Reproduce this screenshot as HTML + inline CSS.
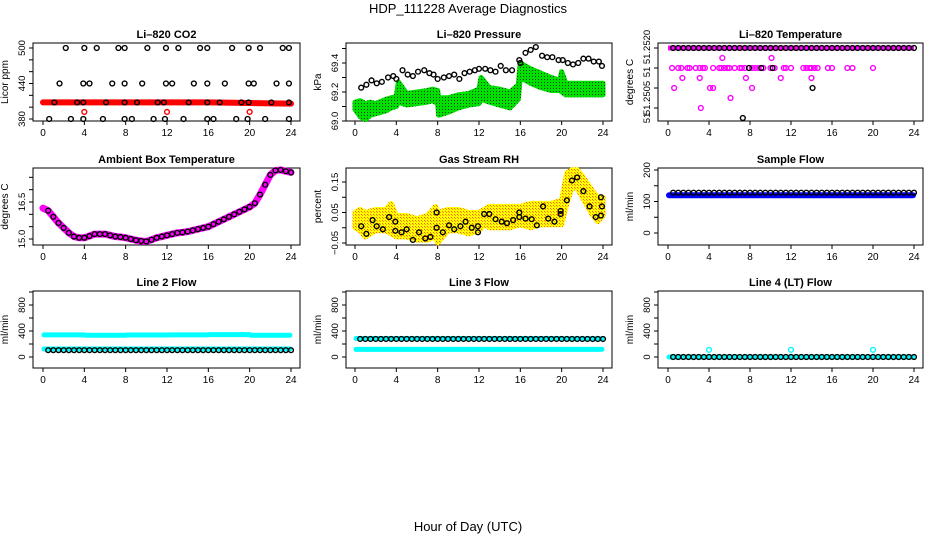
<!DOCTYPE html>
<html><head><meta charset="utf-8">
<style>
html,body{margin:0;padding:0;background:#fff;}
svg{display:block;font-family:"Liberation Sans",Arial,sans-serif;}
</style></head>
<body>
<svg id="c" width="936" height="540" viewBox="0 0 936 540" xmlns="http://www.w3.org/2000/svg">
<defs>
<pattern id="gdots" width="3" height="3" patternUnits="userSpaceOnUse"><rect width="3" height="3" fill="#00e000"/><rect x="1" y="1" width="1" height="1" fill="#004000"/></pattern>
<pattern id="ydots" width="3" height="3" patternUnits="userSpaceOnUse"><rect width="3" height="3" fill="#ffff00"/><rect x="1" y="1" width="1" height="1" fill="#ff6000"/><rect x="2" y="2" width="1" height="1" fill="#ff9000"/></pattern>
</defs>
<text x="468" y="13" text-anchor="middle" font-size="13">HDP_111228  Average Diagnostics</text>
<text x="468" y="531" text-anchor="middle" font-size="13">Hour of Day (UTC)</text>
</svg>
<script>
// ---------- data ----------
const xTicks=[0,4,8,12,16,20,24];
// CO2
const co2RedT=[0,4,8,12,16,20,24];
const co2RedV=[408,408,408,408,408,407,406];
const co2RedPtsT=[4,12,20];
const co2RedPtsV=[392,392,392];
const co2T500=[2.2,4,5.2,7.3,7.9,10.1,11.9,13.1,15.2,15.9,18.3,19.9,21.0,23.2,23.8];
const co2T440=[1.6,3.9,4.5,6.7,7.9,9.6,11.9,12.5,14.6,15.9,17.6,19.9,20.4,22.6,23.8];
const co2T410=[1.1,3.3,3.9,6.1,7.9,9.1,11.1,11.7,14.1,15.9,17.1,19.2,19.9,22.1,23.8];
const co2T380=[0.6,2.7,3.9,5.8,7.9,8.6,10.7,11.8,13.6,15.9,16.5,18.7,19.8,21.5,23.8];
// Pressure
const presT=[0.6,1.1,1.6,2.1,2.6,3.2,3.7,4.0,4.6,5.1,5.6,6.1,6.7,7.2,7.6,8.0,8.6,9.1,9.6,10.1,10.6,11.1,11.6,12.0,12.6,13.1,13.6,14.1,14.6,15.2,15.9,16.0,16.5,17.0,17.5,18.1,18.6,19.1,19.7,20.1,20.6,21.1,21.6,22.1,22.6,23.1,23.6,23.9];
const presV=[69.23,69.25,69.28,69.26,69.27,69.30,69.31,69.29,69.35,69.32,69.31,69.34,69.35,69.33,69.32,69.29,69.30,69.31,69.32,69.29,69.33,69.34,69.35,69.36,69.36,69.35,69.34,69.38,69.35,69.35,69.42,69.40,69.47,69.49,69.51,69.45,69.44,69.44,69.42,69.42,69.40,69.39,69.40,69.43,69.43,69.41,69.41,69.38];
const presBandT=[0,0.5,1,1.5,2,3,3.5,4,4.2,5,6,7,7.5,8,8.1,9,10,11,12,12.2,13,14,15,15.8,16,17,18,19,19.8,20,20.4,21,22,23,24];
const presBandLo=[69.08,69.03,69.01,69.04,69.05,69.07,69.09,69.10,69.13,69.11,69.12,69.13,69.14,69.12,69.04,69.06,69.09,69.11,69.12,69.15,69.13,69.11,69.09,69.15,69.30,69.26,69.23,69.21,69.21,69.20,69.18,69.18,69.18,69.18,69.18];
const presBandHi=[69.13,69.14,69.12,69.13,69.12,69.15,69.16,69.17,69.27,69.19,69.20,69.21,69.22,69.21,69.16,69.16,69.18,69.19,69.22,69.30,69.23,69.22,69.20,69.25,69.40,69.36,69.33,69.30,69.28,69.34,69.26,69.26,69.26,69.26,69.26];
// Li-820 temperature
const tempBlackT=[0.5,1,1.5,2,2.5,3,3.5,4,4.5,5,5.5,6,6.5,7,7.5,8,8.5,9,9.5,10,10.5,11,11.5,12,12.5,13,13.5,14,14.5,15,15.5,16,16.5,17,17.5,18,18.5,19,19.5,20,20.5,21,21.5,22,22.5,23,23.5,24];
const tempBlackExtraT=[7.9,9.1,10.2,14.1,7.3];
const tempBlackExtraV=[51.2515,51.2515,51.2515,51.2510,51.25025];
const tempMagT=[0.4,1.0,1.3,1.9,2.1,2.7,3.1,3.4,3.6,4.4,5.0,5.2,5.5,5.8,6.0,6.5,7.0,7.2,7.5,8.2,8.5,8.8,9.3,10.0,10.4,11.3,11.5,12.0,13.2,13.5,13.8,14.0,14.3,14.6,15.6,16.0,17.5,18.0,20.0,5.3,10.1,1.4,3.1,7.6,11.0,14.0,0.6,4.1,4.4,8.2,6.1,3.2];
const tempMagV=[51.2515,51.2515,51.2515,51.2515,51.2515,51.2515,51.2515,51.2515,51.2515,51.2515,51.2515,51.2515,51.2515,51.2515,51.2515,51.2515,51.2515,51.2515,51.2515,51.2515,51.2515,51.2515,51.2515,51.2515,51.2515,51.2515,51.2515,51.2515,51.2515,51.2515,51.2515,51.2515,51.2515,51.2515,51.2515,51.2515,51.2515,51.2515,51.2515,51.25175,51.25175,51.25125,51.25125,51.25125,51.25125,51.25125,51.2510,51.2510,51.2510,51.2510,51.25075,51.2505];
// Ambient box temperature (half-hourly)
const ambT=[0,0.5,1,1.5,2,2.5,3,3.5,4,4.5,5,5.5,6,6.5,7,7.5,8,8.5,9,9.5,10,10.5,11,11.5,12,12.5,13,13.5,14,14.5,15,15.5,16,16.5,17,17.5,18,18.5,19,19.5,20,20.5,21,21.5,22,22.5,23,23.5,24];
const ambV=[16.25,16.15,15.9,15.65,15.45,15.25,15.1,15.05,15.05,15.12,15.2,15.2,15.2,15.15,15.1,15.08,15.05,15.0,14.95,14.92,14.9,14.97,15.05,15.1,15.15,15.2,15.25,15.27,15.3,15.35,15.4,15.45,15.5,15.6,15.7,15.8,15.9,16.0,16.1,16.2,16.3,16.45,16.8,17.2,17.6,17.78,17.8,17.75,17.7];
// Gas stream RH
const rhBandT=[0,0.5,1,2,3,3.5,4,5,6,7,7.8,8,9,10,11,12,12.5,13,14,15,16,17,18,19,20,20.5,21,21.5,22,23,23.5,24];
const rhBandLo=[0.0,-0.01,-0.03,-0.01,-0.01,-0.02,-0.03,-0.03,-0.04,-0.04,-0.03,-0.05,-0.01,-0.01,-0.02,-0.01,0.01,0.0,0.0,0.0,0.01,0.0,0.01,0.01,0.01,0.08,0.13,0.13,0.10,0.04,0.02,0.04];
const rhBandHi=[0.05,0.06,0.05,0.06,0.06,0.08,0.04,0.04,0.03,0.04,0.07,0.05,0.06,0.06,0.05,0.05,0.06,0.07,0.07,0.07,0.07,0.08,0.08,0.08,0.09,0.18,0.19,0.19,0.17,0.12,0.10,0.10];
const rhT=[0.6,1.1,1.7,2.1,2.7,3.3,3.9,3.9,4.5,5.0,5.6,6.2,6.8,7.3,7.9,7.9,8.5,9.1,9.6,10.2,10.7,11.3,11.9,11.9,12.5,13.0,13.6,14.2,14.7,15.3,15.9,15.9,16.5,17.1,17.6,18.2,18.7,19.3,19.9,19.9,20.5,21.0,21.5,22.1,22.7,23.3,23.8,23.8,23.9];
const rhV=[0.005,-0.02,0.025,0.005,-0.005,0.035,0.02,-0.01,-0.015,-0.005,-0.04,-0.015,-0.035,-0.03,0.0,0.05,-0.015,0.008,-0.005,0.005,0.02,0.0,0.005,-0.015,0.045,0.045,0.028,0.02,0.015,0.025,0.05,0.035,0.03,0.028,0.008,0.07,0.03,0.02,0.055,0.045,0.09,0.155,0.165,0.12,0.07,0.035,0.04,0.1,0.07];
// flows
const halfHours=[0.5,1,1.5,2,2.5,3,3.5,4,4.5,5,5.5,6,6.5,7,7.5,8,8.5,9,9.5,10,10.5,11,11.5,12,12.5,13,13.5,14,14.5,15,15.5,16,16.5,17,17.5,18,18.5,19,19.5,20,20.5,21,21.5,22,22.5,23,23.5,24];
const segStart=[0.1,4.1,8.1,12.1,16.1,20.1];
const segEnd=[4.0,8.0,12.0,16.0,20.0,23.9];
const sampleBlue=[120,120,120,120,120,120];
const sampleBlack=128;
const line2CyanHi=[340,335,338,340,345,335];
const line2CyanLo=[123,123,123,123,123,123];
const line2Black=105;
const line3CyanHi=[285,285,285,285,285,280];
const line3CyanLo=[118,118,118,118,118,118];
const line3Black=277;
const line4Cyan=[0,0,0,0,0,0];
const line4Black=0;
const line4SpikeT=[4,12,20];
const line4SpikeV=[110,110,110];

// ---------- drawing ----------
const svg=document.getElementById('c');
const NS='http://www.w3.org/2000/svg';
function mk(tag,attrs,parent){const e=document.createElementNS(NS,tag);for(const k in attrs)e.setAttribute(k,attrs[k]);(parent||svg).appendChild(e);return e;}

const cols=[{l:33,r:300,x0:43,x24:291},{l:346,r:612,x0:355,x24:603},{l:658,r:923,x0:668,x24:914}];
const rows=[{t:43,b:121},{t:168,b:245},{t:291,b:368}];

function ylabel(c,parent,y,txt){
  const tx=mk('text',{transform:`translate(${c.l-8},${y}) rotate(-90)`,'text-anchor':'middle','font-size':9.5},parent);
  tx.textContent=txt;
  
  
}
function panel(ci,ri,name,title,ylab,v0,p0,v1,p1,ticks,labels){
  const c=cols[ci],r=rows[ri];
  const g=mk('g',{});
  
  
  const X=t=>c.x0+(c.x24-c.x0)*t/24;
  const Y=v=>p0+(p1-p0)*(v-v0)/(v1-v0);
  const box=mk('rect',{x:c.l,y:r.t,width:c.r-c.l,height:r.b-r.t,fill:'none',stroke:'#000','stroke-width':1},g);
  
  
  const tt=mk('text',{x:(c.l+c.r)/2,y:r.t-5,'text-anchor':'middle','font-size':11,'font-weight':'bold'},g);
  tt.textContent=title;
  
  
  const yl=mk('text',{transform:`translate(${c.l-25},${(r.t+r.b)/2}) rotate(-90)`,'text-anchor':'middle','font-size':10},g);
  yl.textContent=ylab;
  
  
  const xa=mk('g',{},g);
  
  
  mk('line',{x1:X(0),x2:X(24),y1:r.b,y2:r.b,stroke:'#000'},xa);
  xTicks.forEach(t=>{mk('line',{x1:X(t),x2:X(t),y1:r.b,y2:r.b+4,stroke:'#000'},xa);
    const tx=mk('text',{x:X(t),y:r.b+15,'text-anchor':'middle','font-size':10},xa);tx.textContent=t;
    
    });
  const ya=mk('g',{},g);
  
  
  mk('line',{x1:c.l,x2:c.l,y1:Y(ticks[0]),y2:Y(ticks[ticks.length-1]),stroke:'#000'},ya);
  ticks.forEach((v,i)=>{mk('line',{x1:c.l-4,x2:c.l,y1:Y(v),y2:Y(v),stroke:'#000'},ya);
    if(labels&&labels[i])ylabel(c,ya,Y(v),labels[i]);});
  const marks=mk('g',{},g);
  
  
  return {X,Y,g:marks,ya,c};
}
function circ(p,x,y,col,fill){mk('circle',{cx:x,cy:y,r:2.4,fill:fill||'none',stroke:col,'stroke-width':1.4},p.g);}
function poly(p,T,V,col,w){mk('polyline',{points:T.map((t,i)=>p.X(t)+','+p.Y(V[i])).join(' '),fill:'none',stroke:col,'stroke-width':w,'stroke-linejoin':'round','stroke-linecap':'round'},p.g);}
function band(p,T,lo,hi,fill){const pts=T.map((t,i)=>p.X(t)+','+p.Y(hi[i])).concat(T.slice().reverse().map((t,j)=>p.X(t)+','+p.Y(lo[T.length-1-j])));
  mk('polygon',{points:pts.join(' '),fill:fill,stroke:fill,'stroke-width':5,'stroke-linejoin':'round'},p.g);}

// CO2
let p=panel(0,0,'panel-co2','Li\u2013820 CO2','Licor ppm',380,119,500,48,[380,400,420,440,460,480,500],['380','','','440','','','500']);
poly(p,co2RedT,co2RedV,'#ff0000',6);
co2RedPtsT.forEach((t,i)=>circ(p,p.X(t),p.Y(co2RedPtsV[i]),'#ff0000'));
[[co2T500,500],[co2T440,440],[co2T410,408],[co2T380,380]].forEach(([T,v])=>T.forEach(t=>circ(p,p.X(t),p.Y(v),'#000')));
// Pressure
p=panel(1,0,'panel-pressure','Li\u2013820 Pressure','kPa',69.0,121,69.4,63,[69.0,69.1,69.2,69.3,69.4,69.5],['69.0','','69.2','','69.4','']);
band(p,presBandT,presBandLo,presBandHi,'url(#gdots)');
presT.forEach((t,i)=>circ(p,p.X(t),p.Y(presV[i]),'#000'));
// Li-820 temperature
p=panel(2,0,'panel-li820-temperature','Li\u2013820 Temperature','degrees C',51.2520,48,51.2500,128,[51.2520,51.2515,51.2510,51.2505],null);
ylabel(p.c,p.ya,47,'51.2520');
ylabel(p.c,p.ya,72,'51');
ylabel(p.c,p.ya,98,'51.2505');
ylabel(p.c,p.ya,118,'51');
mk('line',{x1:p.X(0),x2:p.X(24),y1:p.Y(51.2520),y2:p.Y(51.2520),stroke:'#ff00ff','stroke-width':5},p.g);
tempMagT.forEach((t,i)=>circ(p,p.X(t),p.Y(tempMagV[i]),'#ff00ff'));
tempBlackT.forEach(t=>circ(p,p.X(t),p.Y(51.2520),'#000'));
tempBlackExtraT.forEach((t,i)=>circ(p,p.X(t),p.Y(tempBlackExtraV[i]),'#000'));
// Ambient
p=panel(0,1,'panel-ambient-temperature','Ambient Box Temperature','degrees C',15.0,239,16.5,202,[15.0,15.5,16.0,16.5,17.0,17.5],['15.0','','','16.5','','']);
poly(p,ambT,ambV,'#ff00ff',7);
ambT.forEach((t,i)=>{if(i>0)circ(p,p.X(t),p.Y(ambV[i]),'#000');});
// RH
p=panel(1,1,'panel-gas-stream-rh','Gas Stream RH','percent',-0.05,243,0.15,182,[-0.05,0,0.05,0.1,0.15],['\u22120.05','','0.05','','0.15']);
band(p,rhBandT,rhBandLo,rhBandHi,'url(#ydots)');
rhT.forEach((t,i)=>circ(p,p.X(t),p.Y(rhV[i]),'#000'));
// Sample flow
p=panel(2,1,'panel-sample-flow','Sample Flow','ml/min',0,233,200,170,[0,50,100,150,200],['0','','100','','200']);
segStart.forEach((s,i)=>mk('line',{x1:p.X(s),x2:p.X(segEnd[i]),y1:p.Y(sampleBlue[i]),y2:p.Y(sampleBlue[i]),stroke:'#0000ff','stroke-width':6,'stroke-linecap':'round'},p.g));
halfHours.forEach(t=>circ(p,p.X(t),p.Y(sampleBlack),'#000'));
// flows row 3
function flowPanel(ci,name,title,hi,lo,blk){
  const q=panel(ci,2,name,title,'ml/min',0,357,400,331,[0,200,400,600,800,1000],['0','','400','','800','']);
  segStart.forEach((s,i)=>{
    if(hi)mk('line',{x1:q.X(s),x2:q.X(segEnd[i]),y1:q.Y(hi[i]),y2:q.Y(hi[i]),stroke:'#00ffff','stroke-width':5,'stroke-linecap':'round'},q.g);
    mk('line',{x1:q.X(s),x2:q.X(segEnd[i]),y1:q.Y(lo[i]),y2:q.Y(lo[i]),stroke:'#00ffff','stroke-width':5,'stroke-linecap':'round'},q.g);
  });
  halfHours.forEach(t=>circ(q,q.X(t),q.Y(blk),'#000'));
  return q;
}
flowPanel(0,'panel-line2-flow','Line 2 Flow',line2CyanHi,line2CyanLo,line2Black);
flowPanel(1,'panel-line3-flow','Line 3 Flow',line3CyanHi,line3CyanLo,line3Black);
p=flowPanel(2,'panel-line4-flow','Line 4 (LT) Flow',null,line4Cyan,line4Black);
line4SpikeT.forEach((t,i)=>circ(p,p.X(t),p.Y(line4SpikeV[i]),'#00ffff'));
</script>
</body></html>
